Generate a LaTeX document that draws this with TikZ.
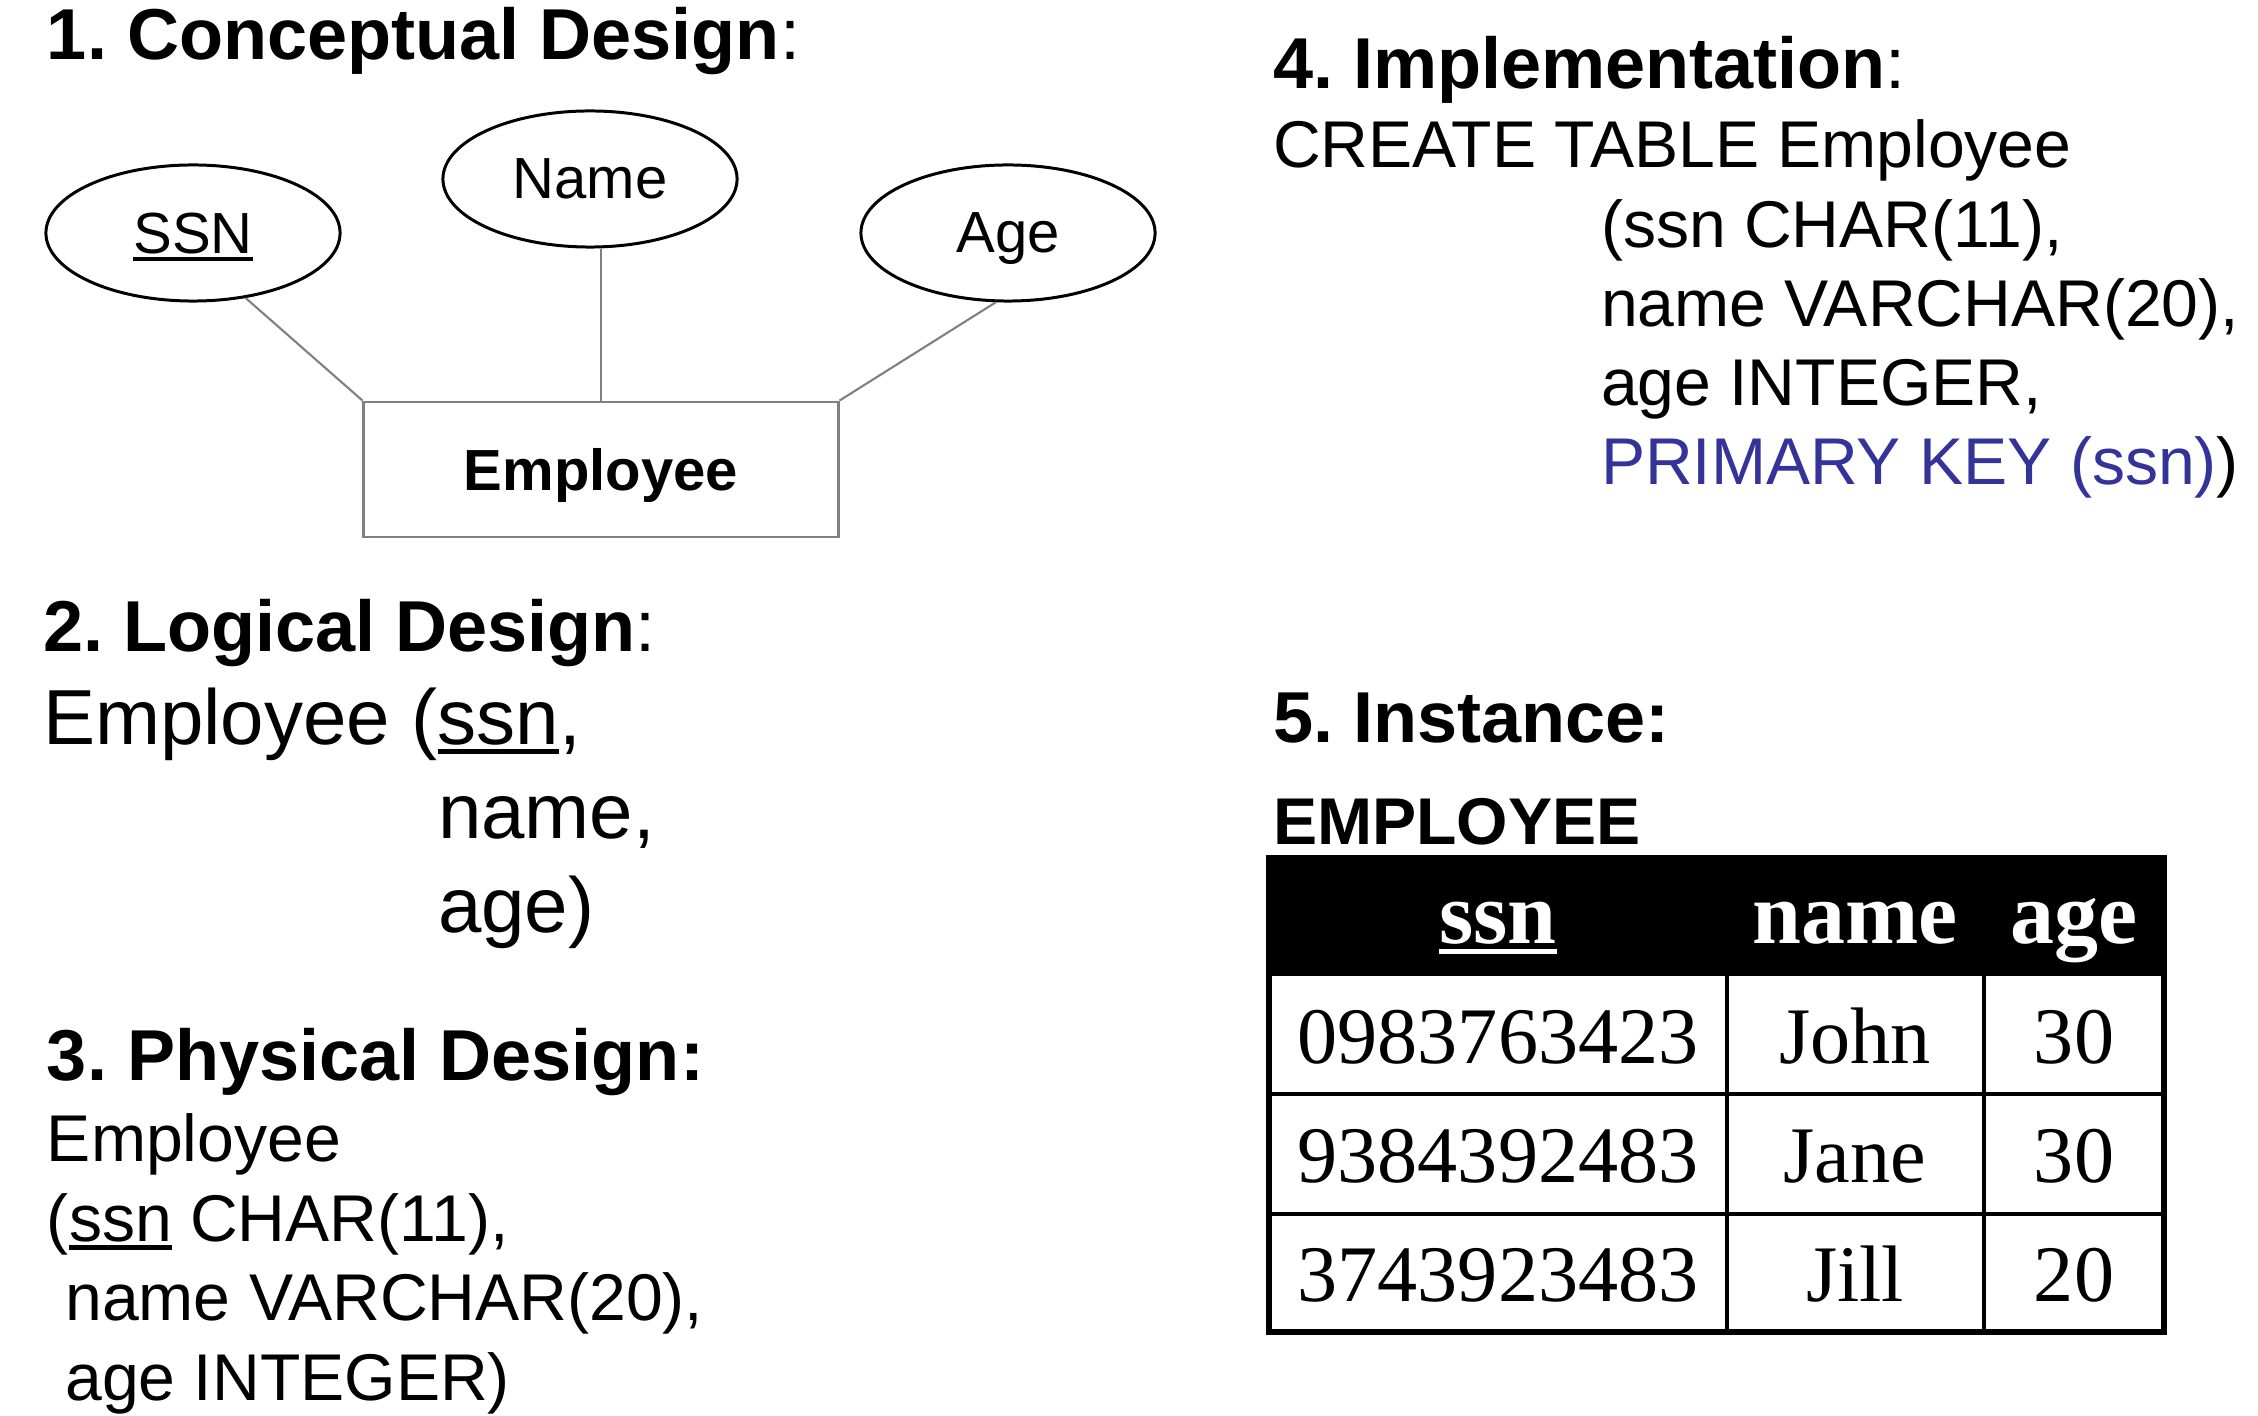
\documentclass[tikz,border=0pt]{standalone}
\usepackage{fontspec}
\setmainfont{Liberation Sans}
\newfontfamily\tabfont{Liberation Serif}
\usetikzlibrary{shapes.geometric}
\definecolor{keyblue}{RGB}{51,51,153}
\definecolor{linkgray}{RGB}{128,128,128}

% key attribute: text with a solid rule under it
\newcommand{\ul}[1]{\setbox0\hbox{#1}\rlap{\rule[-0.13em]{\wd0}{0.065em}}\box0\relax}

\tikzset{
  txt/.style={anchor=base west, inner sep=0pt, outer sep=0pt},
  head/.style={txt, font=\fontsize{20.5pt}{24pt}\selectfont\bfseries},
  logic/.style={txt, font=\fontsize{22.2pt}{26pt}\selectfont},
  body/.style={txt, font=\fontsize{18.8pt}{22pt}\selectfont},
  attr/.style={ellipse, draw, line width=0.85pt, minimum width=2.94cm,
    minimum height=1.36cm, inner sep=0pt, text depth=0pt, font=\fontsize{16.5pt}{20pt}\selectfont},
  entity/.style={rectangle, draw=linkgray, line width=0.8pt, minimum width=4.74cm,
    minimum height=1.35cm, inner sep=0pt, text depth=0pt, font=\fontsize{16.5pt}{20pt}\selectfont\bfseries},
  link/.style={draw=linkgray, line width=0.6pt},
  cell/.style={anchor=base, inner sep=0pt, font=\tabfont\fontsize{22.8pt}{26pt}\selectfont},
  hcell/.style={anchor=base, inner sep=0pt, text=white, font=\tabfont\fontsize{25pt}{28pt}\selectfont\bfseries},
}

\begin{document}
\frenchspacing
\begin{tikzpicture}[x=0.01cm, y=-0.01cm]
\useasboundingbox (0,0) rectangle (2258,1416);

% 1. Conceptual design: ER diagram
\node[head] (h1) at (47,60) {1. Conceptual Design\mdseries:};
\node[attr] (ssn) at (193,233) {\ul{SSN}};
\node[attr] (name) at (590,179) {Name};
\node[attr] (age) at (1008,233) {Age};
\node[entity] (emp) at (601,469.5) {Employee};
\draw[link] (ssn.309) -- (emp.north west);
\draw[link] (emp.north) -- (emp.north |- name.south);
\draw[link] (age.260) -- (emp.north east);

% 2. Logical design
\node[head] (h2) at (43,651) {2. Logical Design\mdseries:};
\node[logic] (l1) at (43,744) {Employee (\ul{ssn},};
\node[logic] (l2) at (438,838) {name,};
\node[logic] (l3) at (438,932) {age)};

% 3. Physical design
\node[head] (h3) at (47,1080) {3. Physical Design:};
\node[body] (p1) at (47,1161) {Employee};
\node[body] (p2) at (47,1241) {(\ul{ssn} CHAR(11),};
\node[body] (p3) at (47,1320) {\ name VARCHAR(20),};
\node[body] (p4) at (47,1400) {\ age INTEGER)};

% 4. Implementation
\node[head] (h4) at (1273,89) {4. Implementation\mdseries:};
\node[body] (s1) at (1273,168) {CREATE TABLE Employee};
\node[body] (s2) at (1601,248) {(ssn CHAR(11),};
\node[body] (s3) at (1601,327) {name VARCHAR(20),};
\node[body] (s4) at (1601,406) {age INTEGER,};
\node[body] (s5) at (1601,485) {\textcolor{keyblue}{PRIMARY KEY (ssn)})};

% 5. Instance
\node[head] (h5) at (1273,742) {5. Instance:};
\node[body, font=\fontsize{18.8pt}{22pt}\selectfont\bfseries] (tname) at (1273,844) {EMPLOYEE};

% table grid
\fill[black] (1269,858) rectangle (2164,976);
\draw[line width=0.9pt] (1727,976) -- (1727,1332) (1984,976) -- (1984,1332)
  (1269,1094) -- (2164,1094) (1269,1214) -- (2164,1214);
\draw[line width=1.8pt] (1269,858) rectangle (2164,1332);

% table header and rows
\node[hcell] (c-ssn) at (1498,943) {\ul{ssn}};
\node[hcell] (c-name) at (1855,943) {name};
\node[hcell] (c-age) at (2074,943) {age};
\node[cell] (r1a) at (1498,1063) {0983763423};
\node[cell] (r1b) at (1855,1063) {John};
\node[cell] (r1c) at (2074,1063) {30};
\node[cell] (r2a) at (1498,1182) {9384392483};
\node[cell] (r2b) at (1855,1182) {Jane};
\node[cell] (r2c) at (2074,1182) {30};
\node[cell] (r3a) at (1498,1301) {3743923483};
\node[cell] (r3b) at (1855,1301) {Jill};
\node[cell] (r3c) at (2074,1301) {20};
\end{tikzpicture}
\end{document}
